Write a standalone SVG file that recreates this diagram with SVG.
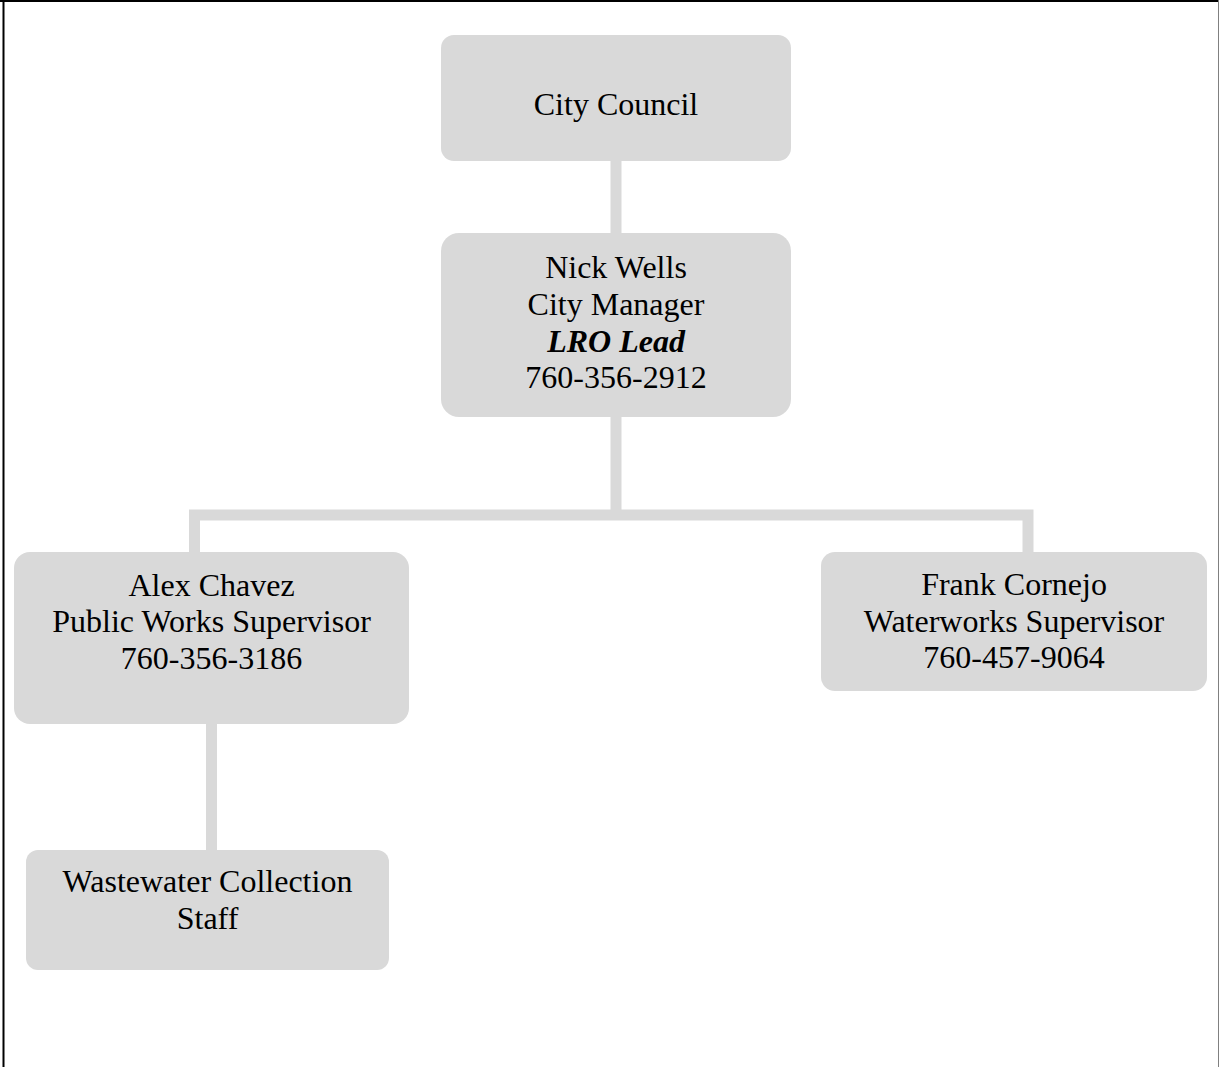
<svg xmlns="http://www.w3.org/2000/svg" width="1219" height="1067" viewBox="0 0 1219 1067">
<style>
.box{fill:#D9D9D9}
.conn{fill:none;stroke:#D9D9D9;stroke-width:11}
text{font-family:"Liberation Serif","Times New Roman",serif;font-size:32px;fill:#000;text-anchor:middle}
.it{font-style:italic;font-weight:bold}
</style>
<rect width="1219" height="1067" fill="#fff"/>
<g id="frame">
<line x1="0" y1="1" x2="1219" y2="1" stroke="#000" stroke-width="2"/>
<line x1="3.5" y1="0" x2="3.5" y2="1067" stroke="#000" stroke-width="2"/>
<line x1="1218.5" y1="0" x2="1218.5" y2="1067" stroke="#808080" stroke-width="1"/>
</g>
<g id="connectors">
<line class="conn" x1="616" y1="161" x2="616" y2="233"/>
<path class="conn" d="M616 417 V515 M194.5 552 V515 H1028 V552"/>
<line class="conn" x1="211.5" y1="724" x2="211.5" y2="850"/>
</g>
<g id="city-council">
<rect class="box" x="441" y="35" width="350" height="126" rx="13"/>
<text x="616" y="115">City Council</text>
</g>
<g id="nick-wells">
<rect class="box" x="441" y="233" width="350" height="184" rx="18"/>
<text x="616" y="277.5">Nick Wells</text>
<text x="616" y="314.5">City Manager</text>
<text x="616" y="351.5" class="it">LRO Lead</text>
<text x="616" y="388">760-356-2912</text>
</g>
<g id="alex-chavez">
<rect class="box" x="14" y="552" width="395" height="172" rx="16"/>
<text x="211.5" y="595.5">Alex Chavez</text>
<text x="211.5" y="632">Public Works Supervisor</text>
<text x="211.5" y="669">760-356-3186</text>
</g>
<g id="frank-cornejo">
<rect class="box" x="821" y="552" width="386" height="139" rx="14"/>
<text x="1014" y="595">Frank Cornejo</text>
<text x="1014" y="632">Waterworks Supervisor</text>
<text x="1014" y="668">760-457-9064</text>
</g>
<g id="wastewater-staff">
<rect class="box" x="26" y="850" width="363" height="120" rx="12"/>
<text x="207.5" y="892">Wastewater Collection</text>
<text x="207.5" y="929">Staff</text>
</g>
</svg>
